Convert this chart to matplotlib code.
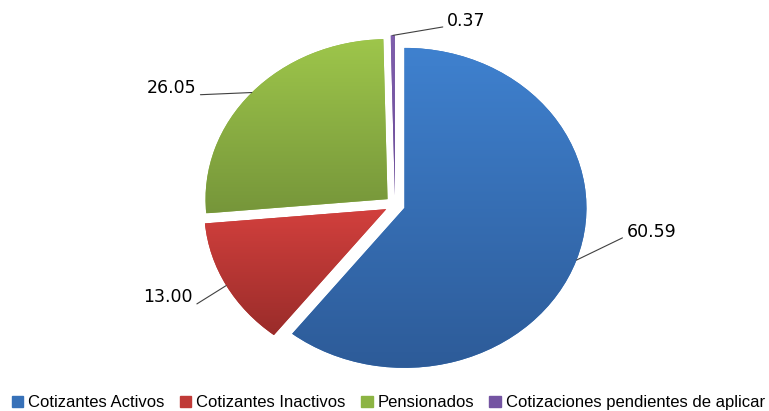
import matplotlib
matplotlib.use("Agg")
import matplotlib.pyplot as plt
import numpy as np
from matplotlib.colors import LinearSegmentedColormap

# data (percent shares)
categories = ["Cotizantes Activos", "Cotizantes Inactivos", "Pensionados",
              "Cotizaciones pendientes de aplicar"]
values = [60.59, 13.00, 26.05, 0.37]

# top -> bottom gradient colours per slice
top_colors = ["#3f81cf", "#d2403d", "#9ec64b", "#8060ad"]
bottom_colors = ["#2d5b98", "#9a2c2a", "#76963a", "#6a4a96"]
legend_colors = ["#3771b8", "#c03a37", "#8cb443", "#7454a2"]
explode = [0.055, 0.055, 0.055, 0.06]

# label placement: offset of text (points) from wedge edge, alignment
label_offsets = [(36, 20), (-24, -15), (-40, -3), (39, 4)]
label_align = [("left", "center", (0, 0.3)), ("right", "bottom", (1, 0)),
               ("right", "bottom", (1, 0.1)), ("left", "bottom", (0, 0.2))]

W, H, DPI = 769, 411, 100
RX, RY = 182, 160          # pixel radii (the original pie is stretched)
CX, CY = 395, 411 - 205    # pixel centre
LIM = 1.2

fig = plt.figure(figsize=(W / DPI, H / DPI), dpi=DPI)
ax = fig.add_axes(((CX - LIM * RX) / W, (CY - LIM * RY) / H,
                   2 * LIM * RX / W, 2 * LIM * RY / H))

wedges, _ = ax.pie(values, explode=explode, startangle=90, counterclock=False,
                   colors=legend_colors, wedgeprops=dict(linewidth=0))

grad = np.linspace(0, 1, 256).reshape(-1, 1)
for w, c0, c1 in zip(wedges, top_colors, bottom_colors):
    verts = w.get_path().vertices
    x0, y0 = verts.min(axis=0)
    x1, y1 = verts.max(axis=0)
    cmap = LinearSegmentedColormap.from_list("g", [c1, c0])
    im = ax.imshow(grad, cmap=cmap, extent=(x0, x1, y0, y1), aspect="auto",
                   origin="lower", zorder=2, interpolation="bicubic")
    im.set_clip_path(w)

ax.set_aspect("auto")
ax.set_xlim(-LIM, LIM)
ax.set_ylim(-LIM, LIM)
ax.set_axis_off()

# data labels with leader lines
for w, v, off, (ha, va, rp), ex in zip(wedges, values, label_offsets,
                                      label_align, explode):
    ang = np.deg2rad((w.theta1 + w.theta2) / 2)
    r = 1 + ex
    xy = (r * np.cos(ang), r * np.sin(ang))
    ax.annotate(f"{v:.2f}", xy=xy, xytext=off, textcoords="offset points",
                ha=ha, va=va, fontsize=12.5, family="DejaVu Sans",
                annotation_clip=False, zorder=5,
                arrowprops=dict(arrowstyle="-", color="#404040", lw=0.8,
                                shrinkA=1, shrinkB=0, relpos=rp))

handles = [plt.Rectangle((0, 0), 1, 1, color=c) for c in legend_colors]
fig.legend(handles, categories, loc="lower center", bbox_to_anchor=(0.505, -0.035),
           ncol=4, frameon=False, handlelength=0.7, handleheight=0.7,
           handletextpad=0.3, columnspacing=0.9,
           prop=dict(family=["Liberation Sans", "DejaVu Sans"], size=12))

fig.savefig("out.png", dpi=DPI)
